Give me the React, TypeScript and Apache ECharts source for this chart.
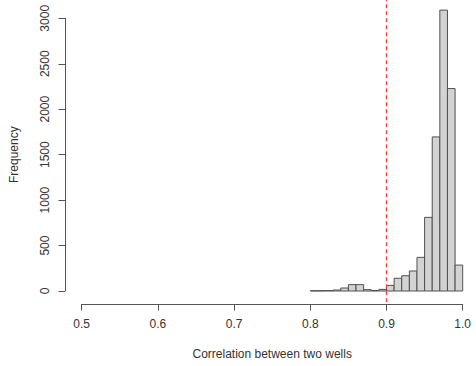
import React, { useEffect, useRef } from "react";
import * as echarts from "echarts";

// Histogram bins (left edges) and their counts
const binStarts = [0.80, 0.81, 0.82, 0.83, 0.84, 0.85, 0.86, 0.87, 0.88, 0.89,
  0.90, 0.91, 0.92, 0.93, 0.94, 0.95, 0.96, 0.97, 0.98, 0.99];
const binWidth = 0.01;
const counts = [3, 3, 5, 11, 33, 70, 70, 15, 5, 18,
  62, 140, 168, 220, 370, 810, 1695, 3090, 2227, 285];

// x tick labels and y ticks
const xTicks = ["0.5", "0.6", "0.7", "0.8", "0.9", "1.0"];
const yTicks = [0, 500, 1000, 1500, 2000, 2500, 3000];

// threshold line and plot-region y extents (R's 4% expansion)
const threshold = 0.9;
const plotYLow = -123.6;
const plotYHigh = 3213.6;

const FONT = "'Liberation Sans', Arial, Helvetica, sans-serif";

export default function App() {
  const ref = useRef<HTMLDivElement>(null);
  useEffect(() => {
    if (!ref.current) return;
    const chart = echarts.init(ref.current, null, { renderer: "svg" });
    const histData = binStarts.map((s, i) => [s, s + binWidth, counts[i]]);
    const axisColor = "#555555";
    chart.setOption({
      animation: false,
      backgroundColor: "#ffffff",
      grid: { left: 81.7, top: 18.3, width: 381, height: 272.7 },
      xAxis: {
        type: "value",
        min: 0.5,
        max: 1.0,
        interval: 0.1,
        offset: 13,
        splitLine: { show: false },
        axisLine: { show: true, onZero: false, lineStyle: { color: axisColor, width: 1 } },
        axisTick: { show: true, length: 6.5, lineStyle: { color: axisColor } },
        axisLabel: {
          fontSize: 12,
          color: "#333333",
          fontFamily: FONT,
          margin: 14,
          formatter: (v: number) => {
            const idx = Math.round((v - 0.5) / 0.1);
            return xTicks[idx] ?? v.toFixed(1);
          },
        },
        name: "Correlation between two wells",
        nameLocation: "middle",
        nameGap: 44,
        nameTextStyle: { fontSize: 12, color: "#333333", fontFamily: FONT },
      },
      yAxis: {
        type: "value",
        min: yTicks[0],
        max: yTicks[yTicks.length - 1],
        interval: 500,
        offset: 16.7,
        splitLine: { show: false },
        axisLine: { show: true, onZero: false, lineStyle: { color: axisColor, width: 1 } },
        axisTick: { show: true, length: 6.5, lineStyle: { color: axisColor } },
        axisLabel: {
          fontSize: 12,
          color: "#333333",
          fontFamily: FONT,
          rotate: 90,
          margin: 14,
          formatter: (v: number) => String(v),
        },
        name: "Frequency",
        nameLocation: "middle",
        nameGap: 45,
        nameTextStyle: { fontSize: 12, color: "#333333", fontFamily: FONT },
      },
      series: [
        {
          type: "custom",
          name: "hist",
          clip: false,
          data: histData,
          encode: { x: [0, 1], y: 2 },
          renderItem: (_params: any, api: any) => {
            const x0 = api.value(0);
            const x1 = api.value(1);
            const y = api.value(2);
            const p0 = api.coord([x0, y]);
            const p1 = api.coord([x1, 0]);
            return {
              type: "rect",
              shape: { x: p0[0], y: p0[1], width: p1[0] - p0[0], height: p1[1] - p0[1] },
              style: { fill: "#d3d3d3", stroke: "#505050", lineWidth: 1 },
            };
          },
        },
        {
          type: "custom",
          name: "threshold",
          clip: false,
          data: [[threshold, plotYLow, plotYHigh]],
          encode: { x: 0, y: [1, 2] },
          renderItem: (_params: any, api: any) => {
            const a = api.coord([api.value(0), api.value(1)]);
            const b = api.coord([api.value(0), api.value(2)]);
            return {
              type: "line",
              shape: { x1: a[0], y1: a[1], x2: b[0], y2: b[1] },
              style: { stroke: "#ff3b3b", lineWidth: 1.3, lineDash: [4, 3] },
              z2: 10,
            };
          },
        },
      ],
    });
    return () => chart.dispose();
  }, []);
  return (
    <div
      ref={ref}
      style={{ position: "fixed", left: 0, top: 0, width: 476, height: 366, background: "#fff" }}
    />
  );
}
